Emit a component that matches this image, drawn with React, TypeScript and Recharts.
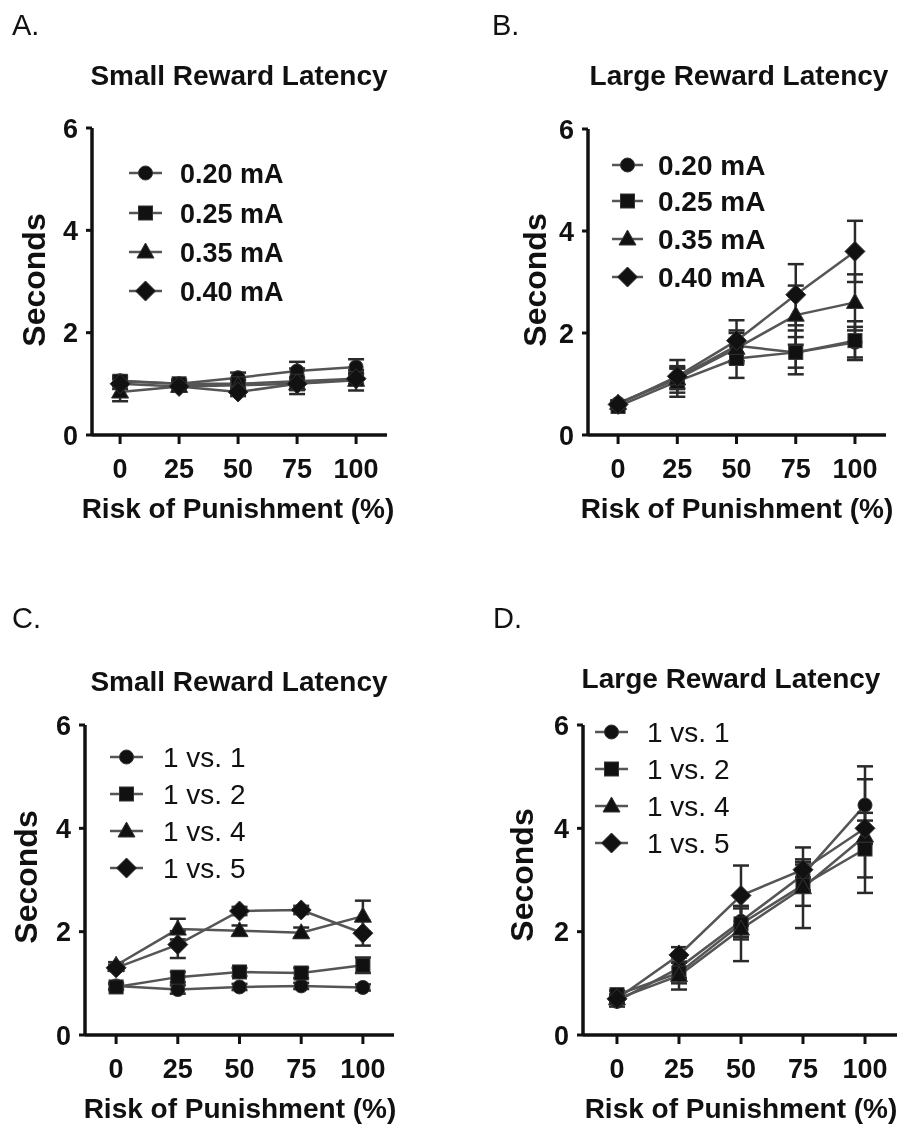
import React from "react";
import { LineChart, Line, XAxis, YAxis, ErrorBar } from "recharts";

const FONT = "'Liberation Sans', Arial, Helvetica, sans-serif";
const INK = "#111";
const LINE_GREY = "#555";

// x categories (risk of punishment, %) and y ticks
const RISK = [0, 25, 50, 75, 100];
const Y_TICKS = [0, 2, 4, 6];

const AMP_LABELS = ["0.20 mA", "0.25 mA", "0.35 mA", "0.40 mA"];
const RATIO_LABELS = ["1 vs. 1", "1 vs. 2", "1 vs. 4", "1 vs. 5"];

// A - small reward latency, shock intensity
const A_020 = [1.06, 1.0, 1.12, 1.25, 1.33];
const A_025 = [1.05, 1.0, 1.0, 1.05, 1.1];
const A_035 = [0.84, 0.95, 0.97, 1.0, 1.07];
const A_040 = [1.0, 0.95, 0.84, 1.0, 1.1];
const A_020_ERR = [0.1, 0.08, 0.1, 0.18, 0.15];
const A_025_ERR = [0.08, 0.08, 0.08, 0.25, 0.12];
const A_035_ERR = [0.18, 0.1, 0.1, 0.12, 0.2];
const A_040_ERR = [0.1, 0.1, 0.08, 0.12, 0.1];

// B - large reward latency, shock intensity
const B_020 = [0.62, 1.12, 1.75, 1.62, 1.82];
const B_025 = [0.56, 1.05, 1.5, 1.62, 1.85];
const B_035 = [0.62, 1.1, 1.7, 2.35, 2.6];
const B_040 = [0.6, 1.15, 1.85, 2.75, 3.6];
const B_020_ERR = [0.05, 0.2, 0.3, 0.3, 0.3];
const B_025_ERR = [0.05, 0.3, 0.38, 0.43, 0.38];
const B_035_ERR = [0.05, 0.2, 0.3, 0.58, 0.55];
const B_040_ERR = [0.05, 0.32, 0.4, 0.6, 0.6];

// C - small reward latency, reward ratio
const C_11 = [0.95, 0.88, 0.93, 0.95, 0.92];
const C_12 = [0.93, 1.12, 1.22, 1.2, 1.35];
const C_14 = [1.35, 2.05, 2.02, 1.98, 2.3];
const C_15 = [1.3, 1.75, 2.4, 2.42, 1.97];
const C_11_ERR = [0.06, 0.08, 0.06, 0.06, 0.06];
const C_12_ERR = [0.06, 0.1, 0.08, 0.1, 0.15];
const C_14_ERR = [0.06, 0.2, 0.1, 0.1, 0.3];
const C_15_ERR = [0.06, 0.26, 0.08, 0.08, 0.24];

// D - large reward latency, reward ratio
const D_11 = [0.65, 1.3, 2.2, 3.1, 4.45];
const D_12 = [0.78, 1.2, 2.15, 2.9, 3.6];
const D_14 = [0.7, 1.15, 2.05, 2.85, 3.85];
const D_15 = [0.7, 1.55, 2.7, 3.2, 4.0];
const D_11_ERR = [0.1, 0.2, 0.3, 0.3, 0.75];
const D_12_ERR = [0.08, 0.2, 0.3, 0.4, 0.55];
const D_14_ERR = [0.08, 0.27, 0.62, 0.78, 1.1];
const D_15_ERR = [0.08, 0.15, 0.58, 0.15, 0.3];

type Shape = "circle" | "square" | "triangle" | "diamond";
const SHAPES: Shape[] = ["circle", "square", "triangle", "diamond"];

function Marker({ cx, cy, shape }: { cx: number; cy: number; shape: Shape }) {
  const st = { fill: INK, stroke: "#333", strokeWidth: 1 };
  if (shape === "circle") return <circle cx={cx} cy={cy} r={7} {...st} />;
  if (shape === "square") return <rect x={cx - 7} y={cy - 7} width={14} height={14} {...st} />;
  if (shape === "triangle")
    return <polygon points={`${cx},${cy - 9} ${cx - 8.5},${cy + 6} ${cx + 8.5},${cy + 6}`} {...st} />;
  return <polygon points={`${cx},${cy - 10} ${cx + 10},${cy} ${cx},${cy + 10} ${cx - 10},${cy}`} {...st} />;
}

function buildRows(series: number[][], errs: number[][]) {
  return RISK.map((x, i) => {
    const r: any = { x };
    series.forEach((s, k) => {
      r[`s${k}`] = s[i];
      r[`e${k}`] = errs[k][i];
    });
    return r;
  });
}

type PanelSpec = {
  letter: string; letterX: number; letterY: number;
  title: string; titleX: number; titleY: number;
  secX: number; secY: number;
  xlabX: number; xlabY: number;
  left: number; right: number; top: number; bottom: number;
  domain: [number, number];
  series: number[][]; errs: number[][];
  labels: string[]; legendRows: number[]; legLine: [number, number]; legText: number;
  legSize: number; legBold: boolean;
};

const PANELS: PanelSpec[] = [
  {
    letter: "A.", letterX: 12, letterY: 35,
    title: "Small Reward Latency", titleX: 239, titleY: 85,
    secX: 45, secY: 280, xlabX: 238, xlabY: 518,
    left: 92, right: 387, top: 128, bottom: 435, domain: [-11.9, 113.1],
    series: [A_020, A_025, A_035, A_040], errs: [A_020_ERR, A_025_ERR, A_035_ERR, A_040_ERR],
    labels: AMP_LABELS, legendRows: [173, 213, 252, 291], legLine: [129, 162], legText: 180,
    legSize: 27, legBold: true,
  },
  {
    letter: "B.", letterX: 492, letterY: 35,
    title: "Large Reward Latency", titleX: 739, titleY: 85,
    secX: 546, secY: 280, xlabX: 737, xlabY: 518,
    left: 588, right: 886, top: 129, bottom: 435, domain: [-12.7, 113.1],
    series: [B_020, B_025, B_035, B_040], errs: [B_020_ERR, B_025_ERR, B_035_ERR, B_040_ERR],
    labels: AMP_LABELS, legendRows: [165, 201, 239, 277], legLine: [612, 643], legText: 658,
    legSize: 28, legBold: true,
  },
  {
    letter: "C.", letterX: 12, letterY: 628,
    title: "Small Reward Latency", titleX: 239, titleY: 691,
    secX: 37, secY: 877, xlabX: 240, xlabY: 1118,
    left: 85, right: 394, top: 725, bottom: 1035, domain: [-12.6, 112.6],
    series: [C_11, C_12, C_14, C_15], errs: [C_11_ERR, C_12_ERR, C_14_ERR, C_15_ERR],
    labels: RATIO_LABELS, legendRows: [757, 794, 831, 868], legLine: [110, 143], legText: 163,
    legSize: 28, legBold: false,
  },
  {
    letter: "D.", letterX: 493, letterY: 628,
    title: "Large Reward Latency", titleX: 731, titleY: 688,
    secX: 533, secY: 875, xlabX: 741, xlabY: 1118,
    left: 583, right: 897, top: 725, bottom: 1035, domain: [-13.7, 112.9],
    series: [D_11, D_12, D_14, D_15], errs: [D_11_ERR, D_12_ERR, D_14_ERR, D_15_ERR],
    labels: RATIO_LABELS, legendRows: [732, 769, 806, 843], legLine: [595, 628], legText: 647,
    legSize: 28, legBold: false,
  },
];

const Y_AXIS_W = 90;
const X_AXIS_H = 80;
const PAD_TOP = 20;
const PAD_RIGHT = 10;

function Panel({ p }: { p: PanelSpec }) {
  const data = buildRows(p.series, p.errs);
  const width = p.right - p.left + Y_AXIS_W + PAD_RIGHT;
  const height = p.bottom - p.top + PAD_TOP + X_AXIS_H;
  return (
    <div style={{ position: "absolute", left: p.left - Y_AXIS_W, top: p.top - PAD_TOP }}>
      <LineChart width={width} height={height} data={data}
        margin={{ top: PAD_TOP, right: PAD_RIGHT, left: 0, bottom: 0 }}>
        <XAxis dataKey="x" type="number" domain={p.domain} allowDataOverflow ticks={RISK}
          height={X_AXIS_H} tickSize={9} tickMargin={15}
          axisLine={{ stroke: INK, strokeWidth: 3.5 }} tickLine={{ stroke: INK, strokeWidth: 3 }}
          tick={{ fontSize: 27, fontWeight: 700, fill: INK, fontFamily: FONT }} />
        <YAxis type="number" domain={[0, 6]} ticks={Y_TICKS} allowDataOverflow width={Y_AXIS_W}
          tickSize={6} tickMargin={8}
          axisLine={{ stroke: INK, strokeWidth: 3.5 }} tickLine={{ stroke: INK, strokeWidth: 3 }}
          tick={{ fontSize: 27, fontWeight: 700, fill: INK, fontFamily: FONT }} />
        {SHAPES.map((shape, k) => (
          <Line key={shape} dataKey={`s${k}`} type="linear" stroke={LINE_GREY} strokeWidth={2.5}
            isAnimationActive={false} activeDot={false}
            dot={(d: any) => <Marker key={`${shape}-${d.index}`} cx={d.cx} cy={d.cy} shape={shape} />}>
            <ErrorBar dataKey={`e${k}`} direction="y" width={8} strokeWidth={2.5} stroke="#2a2a2a"
              isAnimationActive={false} />
          </Line>
        ))}
      </LineChart>
    </div>
  );
}

function Overlay() {
  const txt = { fontFamily: FONT, fill: INK } as const;
  return (
    <svg width={907} height={1127} style={{ position: "absolute", left: 0, top: 0, pointerEvents: "none" }}>
      {PANELS.map((p) => (
        <g key={p.letter}>
          <text x={p.letterX} y={p.letterY} fontSize={29} {...txt}>{p.letter}</text>
          <text x={p.titleX} y={p.titleY} fontSize={28} fontWeight={700} textAnchor="middle" {...txt}>{p.title}</text>
          <text transform={`translate(${p.secX},${p.secY}) rotate(-90)`} fontSize={32} fontWeight={700}
            textAnchor="middle" {...txt}>Seconds</text>
          <text x={p.xlabX} y={p.xlabY} fontSize={28} fontWeight={700} textAnchor="middle" {...txt}>
            Risk of Punishment (%)
          </text>
          {p.labels.map((lab, k) => {
            const y = p.legendRows[k];
            const mid = (p.legLine[0] + p.legLine[1]) / 2;
            return (
              <g key={lab}>
                <line x1={p.legLine[0]} x2={p.legLine[1]} y1={y} y2={y} stroke={LINE_GREY} strokeWidth={2.5} />
                <Marker cx={mid} cy={y} shape={SHAPES[k]} />
                <text x={p.legText} y={y + p.legSize * 0.36} fontSize={p.legSize}
                  fontWeight={p.legBold ? 700 : 400} {...txt}>{lab}</text>
              </g>
            );
          })}
        </g>
      ))}
    </svg>
  );
}

export default function App() {
  return (
    <div style={{ position: "absolute", left: 0, top: 0, width: 907, height: 1127, background: "#fff",
      overflow: "hidden", filter: "drop-shadow(1px 1px 0.6px rgba(0,0,0,0.3))" }}>
      {PANELS.map((p) => <Panel key={p.letter} p={p} />)}
      <Overlay />
    </div>
  );
}
